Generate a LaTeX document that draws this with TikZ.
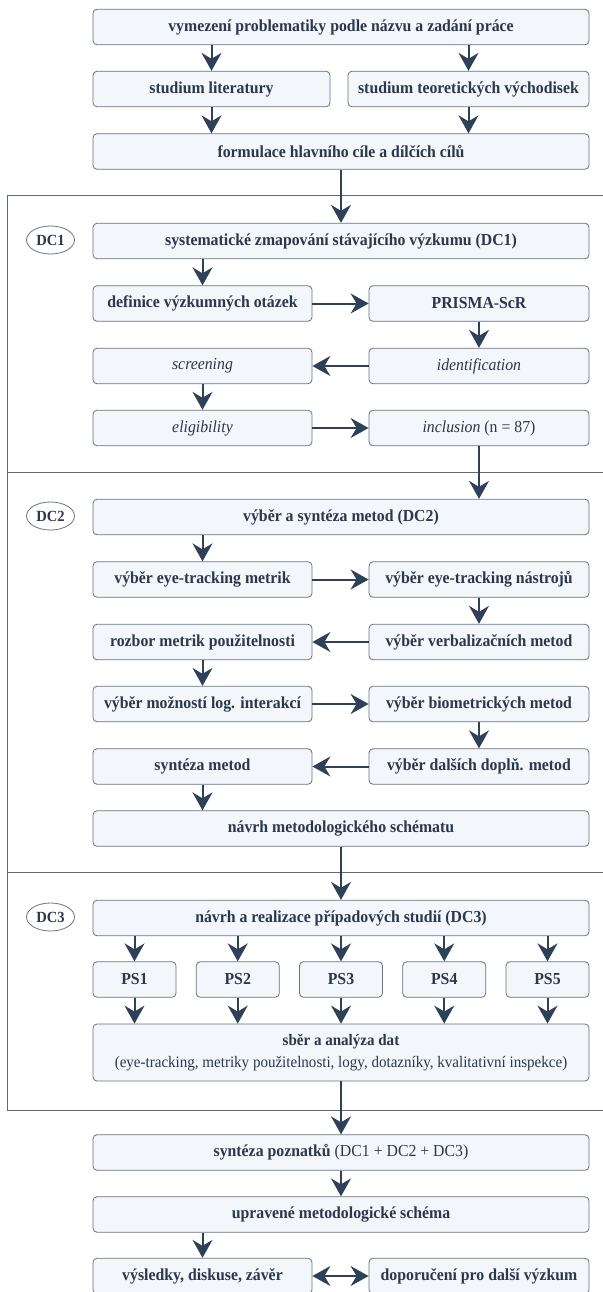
\documentclass[tikz,border=0pt]{standalone}
\usepackage{fontspec}
\setmainfont{Liberation Serif}[FakeStretch=0.94]
\usetikzlibrary{arrows.meta,shapes.geometric}
\definecolor{boxfill}{HTML}{F3F6FA}
\definecolor{boxline}{HTML}{67727F}
\definecolor{arrowc}{HTML}{2F4159}
\definecolor{txt}{HTML}{2B374A}
\definecolor{framec}{HTML}{5F6B7A}
\tikzset{
  box/.style={draw=boxline, fill=boxfill, rounded corners=4pt, line width=0.8pt,
    minimum height=35.5pt, inner sep=0pt, text=txt, font=\fontsize{16.8}{19}\selectfont\bfseries},
  wide/.style={minimum width=496pt},
  lw/.style={minimum width=219pt},
  rw/.style={minimum width=220pt},
  psbox/.style={minimum width=83pt},
  itbox/.style={font=\fontsize{16.8}{19}\selectfont\mdseries\itshape},
  dcl/.style={ellipse, draw=boxline, fill=white, line width=0.8pt, minimum width=48pt,
    minimum height=28pt, inner sep=0pt, text=txt, font=\fontsize{15.5}{17}\selectfont\bfseries},
  tipa/.tip={Stealth[length=18pt,width=20pt,inset=6pt]},
  arr/.style={draw=arrowc, line width=2pt, -tipa},
  darr/.style={draw=arrowc, line width=2pt, tipa-tipa},
  framel/.style={draw=framec, line width=1pt}
}
\begin{document}
\begin{tikzpicture}[x=1pt,y=-1pt]
\useasboundingbox (0,0) rectangle (602,1292);
% frame of the three sections
\draw[framel] (604,196) -- (7,196) -- (7,1110) -- (604,1110);
\draw[framel] (7,472) -- (604,472);
\draw[framel] (7,872) -- (604,872);

% top part
\node[box,wide] (t1) at (341,27) {vymezení problematiky podle názvu a zadání práce};
\node[box,minimum width=237pt] (t2a) at (211.5,89) {studium literatury};
\node[box,minimum width=241pt] (t2b) at (468.5,89) {studium teoretických východisek};
\node[box,wide] (t3) at (341,151.5) {formulace hlavního cíle a dílčích cílů};

% DC1
\node[dcl] (e1) at (50.5,240) {DC1};
\node[box,wide] (d1) at (341,241) {systematické zmapování stávajícího výzkumu (DC1)};
\node[box,lw] (a1) at (202.5,303.5) {definice výzkumných otázek};
\node[box,rw] (b1) at (479,303.5) {PRISMA-ScR};
\node[box,lw,itbox] (a2) at (202.5,366) {screening};
\node[box,rw,itbox] (b2) at (479,366) {identification};
\node[box,lw,itbox] (a3) at (202.5,428) {eligibility};
\node[box,rw,itbox] (b3) at (479,428) {inclusion \textup{(n = 87)}};

% DC2
\node[dcl] (e2) at (50.5,516) {DC2};
\node[box,wide] (d2) at (341,517) {výběr a syntéza metod (DC2)};
\node[box,lw] (c1) at (202.5,579.5) {výběr eye-tracking metrik};
\node[box,rw] (c1r) at (479,579.5) {výběr eye-tracking nástrojů};
\node[box,lw] (c2) at (202.5,642) {rozbor metrik použitelnosti};
\node[box,rw] (c2r) at (479,642) {výběr verbalizačních metod};
\node[box,lw] (c3) at (202.5,704) {výběr možností log. interakcí};
\node[box,rw] (c3r) at (479,704) {výběr biometrických metod};
\node[box,lw] (c4) at (202.5,766.5) {syntéza metod};
\node[box,rw] (c4r) at (479,766.5) {výběr dalších doplň. metod};
\node[box,wide] (n2) at (341,828.5) {návrh metodologického schématu};

% DC3
\node[dcl] (e3) at (50.5,917) {DC3};
\node[box,wide] (d3) at (341,918) {návrh a realizace případových studií (DC3)};
\node[box,psbox] (p1) at (134.5,979.5) {PS1};
\node[box,psbox] (p2) at (237.75,979.5) {PS2};
\node[box,psbox] (p3) at (341,979.5) {PS3};
\node[box,psbox] (p4) at (444.25,979.5) {PS4};
\node[box,psbox] (p5) at (547.5,979.5) {PS5};
\node[box,wide,minimum height=57pt,align=center,font=\fontsize{16}{22}\selectfont\mdseries] (sb) at (341,1052.5)
  {\textbf{sběr a analýza dat}\\(eye-tracking, metriky použitelnosti, logy, dotazníky, kvalitativní inspekce)};

% bottom part
\node[box,wide] (s1) at (341,1152.5) {syntéza poznatků \textmd{(DC1 + DC2 + DC3)}};
\node[box,wide] (s2) at (341,1214.5) {upravené metodologické schéma};
\node[box,lw] (v1) at (202.5,1276) {výsledky, diskuse, závěr};
\node[box,rw] (v2) at (479,1276) {doporučení pro další výzkum};

% connectors
\draw[arr] (t1.south -| t2a) -- (t2a.north);
\draw[arr] (t1.south -| t2b) -- (t2b.north);
\draw[arr] (t2a.south) -- (t3.north -| t2a);
\draw[arr] (t2b.south) -- (t3.north -| t2b);
\draw[arr] (t3.south) -- (d1.north);

\draw[arr] (d1.south -| a1) -- (a1.north);
\draw[arr] (a1.east) -- (b1.west);
\draw[arr] (b1.south) -- (b2.north);
\draw[arr] (b2.west) -- (a2.east);
\draw[arr] (a2.south) -- (a3.north);
\draw[arr] (a3.east) -- (b3.west);
\draw[arr] (b3.south) -- (d2.north -| b3);

\draw[arr] (d2.south -| c1) -- (c1.north);
\draw[arr] (c1.east) -- (c1r.west);
\draw[arr] (c1r.south) -- (c2r.north);
\draw[arr] (c2r.west) -- (c2.east);
\draw[arr] (c2.south) -- (c3.north);
\draw[arr] (c3.east) -- (c3r.west);
\draw[arr] (c3r.south) -- (c4r.north);
\draw[arr] (c4r.west) -- (c4.east);
\draw[arr] (c4.south) -- (n2.north -| c4);
\draw[arr] (n2.south) -- (d3.north);

\foreach \p in {p1,p2,p3,p4,p5}{
  \draw[arr] (d3.south -| \p) -- (\p.north);
  \draw[arr] (\p.south) -- (sb.north -| \p);
}
\draw[arr] (sb.south) -- (s1.north);
\draw[arr] (s1.south) -- (s2.north);
\draw[arr] (s2.south -| v1) -- (v1.north);
\draw[darr] (v1.east) -- (v2.west);
\end{tikzpicture}
\end{document}
